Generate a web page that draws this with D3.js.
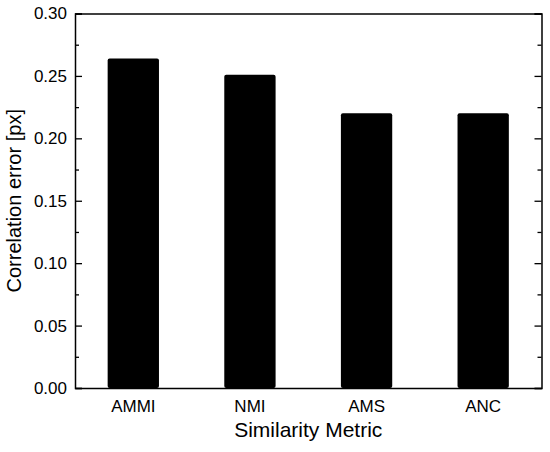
<!DOCTYPE html>
<html lang="en">
<head>
  <meta charset="UTF-8">
  <title>Correlation error by similarity metric</title>
  <script src="https://d3js.org/d3.v7.min.js"></script>
  <style>
    body { margin: 0; background: #fff; }
    svg text { font-family: "Liberation Sans", Arial, sans-serif; fill: #000; }
  </style>
</head>
<body>
  <svg id="chart" width="550" height="452"></svg>
  <script>
    // Data
    const metrics = ['AMMI', 'NMI', 'AMS', 'ANC'];
    const errors = [0.264, 0.251, 0.220, 0.220];
    const yTicks = [0.00, 0.05, 0.10, 0.15, 0.20, 0.25, 0.30];
    const yMinorTicks = [0.025, 0.075, 0.125, 0.175, 0.225, 0.275];

    const margin = {top: 13.5, right: 8.5, bottom: 64, left: 75};
    const width = 550 - margin.left - margin.right;
    const height = 452 - margin.top - margin.bottom;

    const svg = d3.select('#chart');
    const g = svg.append('g').attr('transform', `translate(${margin.left},${margin.top})`);

    const x = d3.scaleBand().domain(metrics).range([0, width])
      .paddingInner(0.56).paddingOuter(0.28);
    const y = d3.scaleLinear().domain([0, 0.30]).range([height, 0]);

    // bars
    g.selectAll('rect.bar')
      .data(metrics.map((m, i) => ({m, v: errors[i]})))
      .enter()
      .append('rect')
      .attr('class', 'bar')
      .attr('x', d => x(d.m))
      .attr('width', x.bandwidth())
      .attr('y', d => y(d.v))
      .attr('height', d => height - y(d.v))
      .attr('rx', 2)
      .attr('fill', '#000');

    // left axis, ticks inward
    const left = g.append('g')
      .call(d3.axisLeft(y).tickValues(yTicks).tickFormat(d3.format('.2f'))
        .tickSize(-7).tickPadding(8));
    left.selectAll('text').style('font-size', '17px');
    g.append('g')
      .call(d3.axisLeft(y).tickValues(yMinorTicks).tickSize(-4).tickFormat(''))
      .call(a => a.select('.domain').remove());

    // right axis, ticks inward, no labels
    g.append('g').attr('transform', `translate(${width},0)`)
      .call(d3.axisRight(y).tickValues(yTicks).tickSize(-7).tickFormat(''));
    g.append('g').attr('transform', `translate(${width},0)`)
      .call(d3.axisRight(y).tickValues(yMinorTicks).tickSize(-4).tickFormat(''))
      .call(a => a.select('.domain').remove());

    // bottom axis, labels only
    const bottom = g.append('g').attr('transform', `translate(0,${height})`)
      .call(d3.axisBottom(x).tickSize(0).tickPadding(12));
    bottom.selectAll('text').style('font-size', '17px');

    // top frame line
    g.append('g').call(d3.axisTop(x).tickSize(0).tickFormat(''));

    g.selectAll('.domain').attr('stroke', '#000').attr('stroke-width', 1.5);
    g.selectAll('.tick line').attr('stroke', '#000').attr('stroke-width', 1.3);

    // axis titles
    svg.append('text')
      .attr('x', margin.left + width / 2)
      .attr('y', 437)
      .attr('text-anchor', 'middle')
      .style('font-size', '21px')
      .text('Similarity Metric');

    svg.append('text')
      .attr('transform', `translate(21,${margin.top + height / 2}) rotate(-90)`)
      .attr('text-anchor', 'middle')
      .style('font-size', '20px')
      .text('Correlation error [px]');
  </script>
</body>
</html>
